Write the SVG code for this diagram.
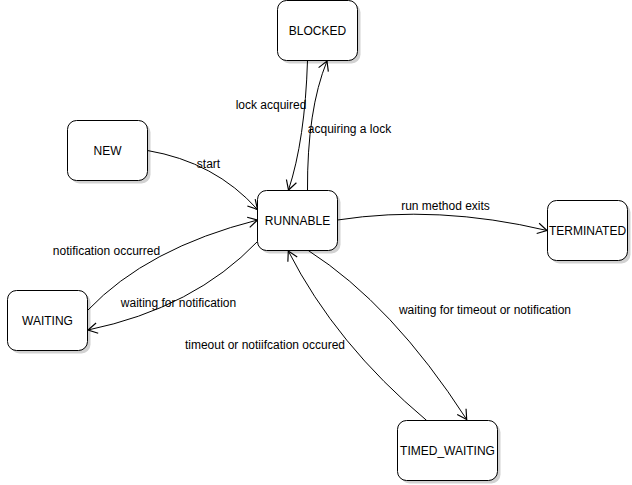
<svg xmlns="http://www.w3.org/2000/svg" width="632" height="485" viewBox="0 0 632 485">
<style>
.node rect.box{fill:#fff;stroke:#000;stroke-width:1}
.node rect.sh{fill:#000;opacity:0.18}
text{font-family:"Liberation Sans",Arial,sans-serif;font-size:12px;fill:#000}
.nt{text-anchor:middle}
.edge{fill:none;stroke:#000;stroke-width:1;marker-end:url(#open)}
</style>
<defs>
<marker id="open" markerUnits="userSpaceOnUse" markerWidth="14" markerHeight="14" viewBox="-10 -6 12 12" refX="0" refY="0" orient="auto">
<path d="M-8,-4.5 L0,0 L-8,4.5" fill="none" stroke="#000" stroke-width="1"/>
</marker>
</defs>
<rect width="632" height="485" fill="#fff"/>
<g id="connectors">
<path class="edge" d="M307.5 60.5 Q305 140 288.5 190"/>
<path class="edge" d="M307.5 190.5 Q307 110 327 61"/>
<path class="edge" d="M147.5 150.5 Q215 162 257.5 209.5"/>
<path class="edge" d="M88 310 Q147 248 257.5 220"/>
<path class="edge" d="M257.5 241.5 Q194 308 88 330"/>
<path class="edge" d="M337.5 220 Q437.5 204.5 547 230.5"/>
<path class="edge" d="M308.3 250.5 Q392.5 304.6 466.7 419.5"/>
<path class="edge" d="M426.7 420.5 Q336 344.6 288.3 251"/>
<text class="nt" x="271" y="109">lock acquired</text>
<text class="nt" x="349.5" y="133">acquiring a lock</text>
<text class="nt" x="208.5" y="168">start</text>
<text class="nt" x="106.5" y="255">notification occurred</text>
<text class="nt" x="178.5" y="307">waiting for notification</text>
<text class="nt" x="445.5" y="210">run method exits</text>
<text class="nt" x="485" y="314">waiting for timeout or notification</text>
<text class="nt" x="265" y="349">timeout or notiifcation occured</text>
</g>
<g id="BLOCKED" class="node"><rect class="sh" x="280.5" y="3.5" width="80" height="60" rx="9"/><rect class="box" x="277.5" y="0.5" width="80" height="60" rx="9"/><text class="nt" x="317.5" y="34.5">BLOCKED</text></g>
<g id="NEW" class="node"><rect class="sh" x="70.5" y="123.5" width="80" height="60" rx="9"/><rect class="box" x="67.5" y="120.5" width="80" height="60" rx="9"/><text class="nt" x="107.5" y="154.5">NEW</text></g>
<g id="RUNNABLE" class="node"><rect class="sh" x="260.5" y="193.5" width="80" height="60" rx="9"/><rect class="box" x="257.5" y="190.5" width="80" height="60" rx="9"/><text class="nt" x="297.5" y="224.5">RUNNABLE</text></g>
<g id="WAITING" class="node"><rect class="sh" x="10.5" y="293.5" width="80" height="60" rx="9"/><rect class="box" x="7.5" y="290.5" width="80" height="60" rx="9"/><text class="nt" x="47.5" y="324.5">WAITING</text></g>
<g id="TERMINATED" class="node"><rect class="sh" x="550.5" y="203.5" width="80" height="60" rx="9"/><rect class="box" x="547.5" y="200.5" width="80" height="60" rx="9"/><text class="nt" x="587.5" y="234.5">TERMINATED</text></g>
<g id="TIMED_WAITING" class="node"><rect class="sh" x="400.5" y="423.5" width="100" height="60" rx="9"/><rect class="box" x="397.5" y="420.5" width="100" height="60" rx="9"/><text class="nt" x="447.5" y="454.5">TIMED_WAITING</text></g>
</svg>
